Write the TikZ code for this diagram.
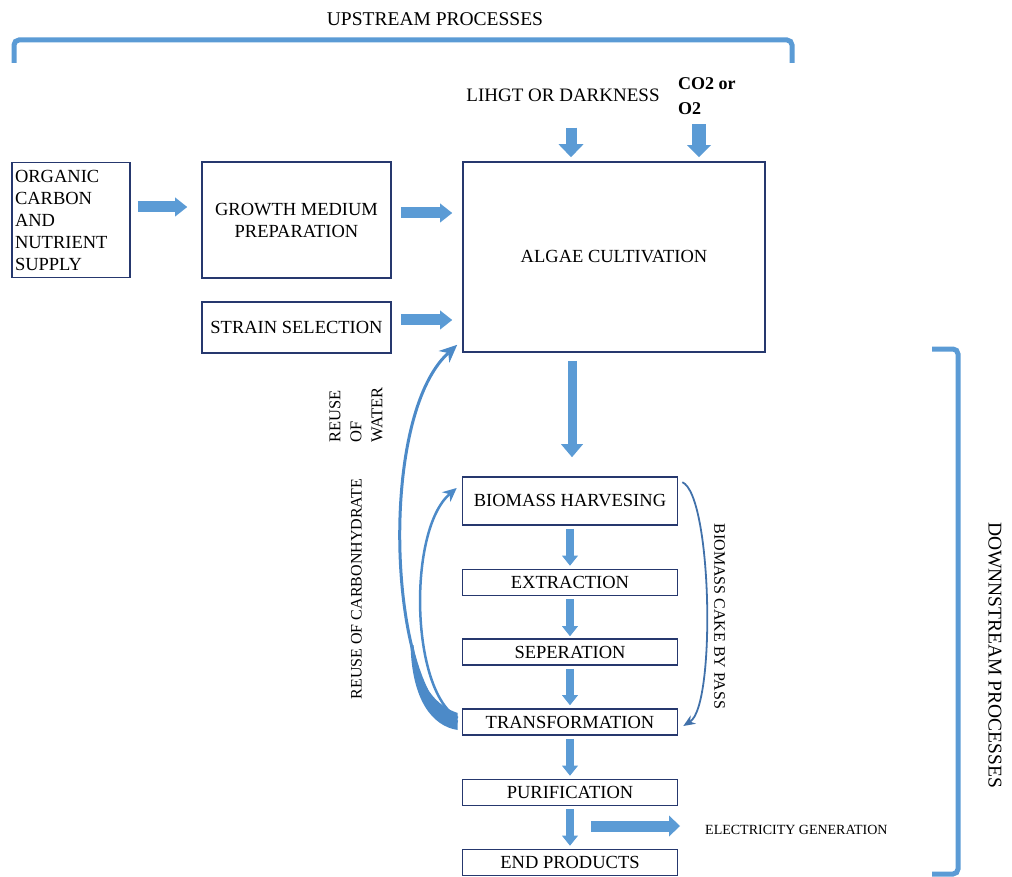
\documentclass[tikz,border=0pt]{standalone}
\usepackage{fontspec}
\setmainfont{Liberation Serif}
\usetikzlibrary{arrows.meta,calc}
\definecolor{arrowblue}{RGB}{91,155,213}
\definecolor{boxblue}{RGB}{38,56,110}
\definecolor{curveblue}{RGB}{76,138,200}
\definecolor{cakeblue}{RGB}{65,113,170}
\begin{document}
\begin{tikzpicture}[x=1pt,y=-1pt,
  box/.style={draw=boxblue,line width=1.6pt,inner sep=2pt,align=center,font=\fontsize{18.5}{22}\selectfont},
  lbl/.style={inner sep=0pt,font=\fontsize{18.5}{22}\selectfont},
  harrow/.style={draw=arrowblue,line width=11pt,-{Triangle[length=12pt,width=19pt,line width=0pt]}},
  earrow/.style={draw=arrowblue,line width=11pt,-{Triangle[length=11pt,width=21pt,line width=0pt]}},
  varrow/.style={draw=arrowblue,line width=11pt,-{Triangle[length=13pt,width=25pt,line width=0pt]}},
  coarrow/.style={draw=arrowblue,line width=14pt,-{Triangle[length=12pt,width=24pt,line width=0pt]}},
  bigarrow/.style={draw=arrowblue,line width=9pt,-{Triangle[length=13pt,width=22pt,line width=0pt]}},
  sarrow/.style={draw=arrowblue,line width=8pt,-{Triangle[length=10pt,width=16pt,line width=0pt]}},
  bracket/.style={draw=arrowblue,line width=5pt,rounded corners=5pt},
  waterarrow/.style={draw=curveblue,line width=3pt,-{Stealth[length=18pt,width=16pt,line width=0pt]}},
  carbarrow/.style={draw=curveblue,line width=2.5pt,-{Stealth[length=14pt,width=13pt,line width=0pt]}},
  cakearrow/.style={draw=cakeblue,line width=1.8pt,-{Stealth[length=12pt,width=10pt,line width=0pt]}}
]
\useasboundingbox (0,0) rectangle (1012,877);

% brackets
\draw[bracket] (14,63) -- (14,40) -- (792,40) -- (792,63);
\draw[bracket] (932,349) -- (958,349) -- (958,874) -- (932,874);
\node[lbl,font=\fontsize{19.5}{22}\selectfont] (up) at (435,19) {UPSTREAM PROCESSES};
\node[lbl,rotate=-90,font=\fontsize{19.5}{22}\selectfont] (down) at (995,655) {DOWNNSTREAM PROCESSES};

% boxes
\node[box,minimum width=118pt,minimum height=115pt,text width=112pt,align=left,inner xsep=3pt] (organic) at (71,220) {ORGANIC\\CARBON\\AND\\NUTRIENT\\SUPPLY};
\node[box,minimum width=189pt,minimum height=116pt] (growth) at (296.5,220) {GROWTH MEDIUM\\PREPARATION};
\node[box,minimum width=189pt,minimum height=51pt] (strain) at (296.5,327.5) {STRAIN SELECTION};
\node[box,minimum width=302pt,minimum height=190pt] (algae) at (614,257) {ALGAE CULTIVATION};
\node[box,minimum width=215pt,minimum height=48pt] (biomass) at (570,501) {BIOMASS HARVESING};
\node[box,minimum width=215pt,minimum height=26pt] (extraction) at (570,582.5) {EXTRACTION};
\node[box,minimum width=215pt,minimum height=26pt] (sep) at (570,652) {SEPERATION};
\node[box,minimum width=215pt,minimum height=26pt] (trans) at (570,722) {TRANSFORMATION};
\node[box,minimum width=215pt,minimum height=26pt] (purif) at (570,792.5) {PURIFICATION};
\node[box,minimum width=215pt,minimum height=26pt] (endp) at (570,862.5) {END PRODUCTS};

% labels
\node[lbl,font=\fontsize{19}{22}\selectfont] (light) at (563,95) {LIHGT OR DARKNESS};
\node[lbl,align=left,anchor=north west,font=\bfseries\fontsize{18}{25}\selectfont] (co2) at (678,77) {CO2 or\\O2};
\node[lbl,rotate=90,align=left,font=\fontsize{16.5}{21}\selectfont] (water) at (356,415) {REUSE\\OF\\WATER};
\node[lbl,rotate=90,font=\fontsize{16}{20}\selectfont] (carb) at (356.5,589) {REUSE OF CARBONHYDRATE};
\node[lbl,rotate=-90,font=\fontsize{16}{20}\selectfont] (cake) at (719.5,616.5) {BIOMASS CAKE BY PASS};
\node[lbl,anchor=west,font=\fontsize{14}{16}\selectfont] (elec) at (705,830) {ELECTRICITY GENERATION};

% straight arrows
\draw[harrow] ($(organic.east)+(7,-13)$) -- ($(growth.west)+(-14,-13)$);
\draw[harrow] ($(growth.east)+(9,-7)$) -- ($(growth.east -| algae.west)+(-10,-7)$);
\draw[harrow] ($(strain.east)+(9,-7.5)$) -- ($(strain.east -| algae.west)+(-10,-7.5)$);
\draw[varrow] ($(light.south)+(8,26)$) -- ($(light.south |- algae.north)+(8,-4)$);
\draw[coarrow] ($(co2.south west)+(21,10)$) -- ($(co2.south west |- algae.north)+(21,-4)$);
\draw[bigarrow] ($(algae.south)+(-42,8)$) -- ($(biomass.north)+(2,-19)$);
\draw[sarrow] ($(biomass.south)+(0,3)$) -- ($(extraction.north)+(0,-3)$);
\draw[sarrow] ($(extraction.south)+(0,3)$) -- ($(sep.north)+(0,-2)$);
\draw[sarrow] ($(sep.south)+(0,3)$) -- ($(trans.north)+(0,-3)$);
\draw[sarrow] ($(trans.south)+(0,3)$) -- ($(purif.north)+(0,-3)$);
\draw[sarrow] ($(purif.south)+(0,3)$) -- ($(endp.north)+(0,-3)$);
\coordinate (elstart) at (591,826);
\draw[earrow] (elstart) -- ($(elec.west)+(-25,-4)$);

% curved arrows
\fill[curveblue] ($(trans.west)+(-4,8)$) .. controls (432,726) and (412,700) .. (410.5,645) -- (413.5,645) .. controls (418,685) and (436,706) .. ($(trans.west)+(-4,-9)$) -- cycle;
\draw[waterarrow] ($(trans.west)+(-4,0)$) .. controls (390,705) and (375,420) .. ($(algae.south west)+(-5,-8)$);
\draw[carbarrow] ($(trans.west)+(-4,-4)$) .. controls (410,690) and (408,530) .. ($(biomass.west)+(-5,-13)$);
\draw[cakearrow] ($(biomass.north east)+(4,6)$) .. controls (712,495) and (716,705) .. ($(trans.east)+(5,4)$);
\end{tikzpicture}
\end{document}
